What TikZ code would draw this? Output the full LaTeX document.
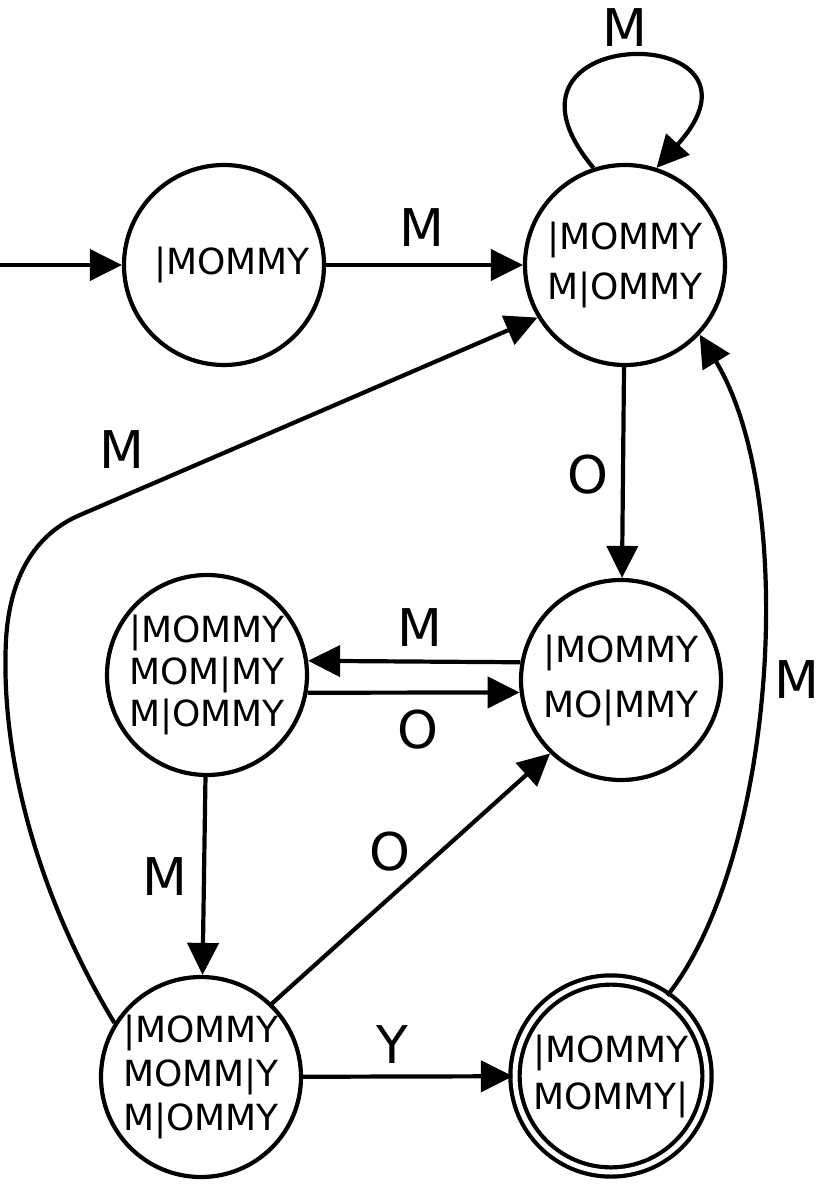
\documentclass[tikz,border=0pt]{standalone}
\usepackage{fontspec}
\setmainfont{DejaVu Sans}
\usetikzlibrary{arrows.meta}
\tikzset{
edge/.style={line width=4.2pt, -{Triangle[length=32pt,width=31pt]}}}

\begin{document}
\begin{tikzpicture}[x=1pt,y=1pt]
		\tikzset{state/.style = {shape=circle, draw, line width=4.2pt, minimum size=200pt, inner sep=0pt, align=center, font=\fontsize{36}{#1}\selectfont}, state/.default=44}
		\tikzset{final/.style = {state=#1, double, double distance=5pt, minimum size=192pt}}
		\tikzset{lbl/.style = {inner sep=0pt, font=\fontsize{52}{52}\selectfont}}

		\useasboundingbox (0,0) rectangle (820,-1185);

		\node[state] (Q_0) at (224,-265) {\hspace{16pt}|MOMMY};
		\node[state=50] (Q_1) at (625,-265) {|MOMMY\\M|OMMY};
		\node[state=55] (Q_2) at (621,-680) {|MOMMY\\MO|MMY};
		\node[state=42] (Q_3) at (207,-675) {|MOMMY\\MOM|MY\\M|OMMY};
		\node[state=44] (Q_4) at (201,-1077) {|MOMMY\\MOMM|Y\\M|OMMY};
		\node[final=47] (Q_5) at (611,-1076) {|MOMMY\\MOMMY|};

		\coordinate (start) at (0,-265);

		\draw[edge] (start) to (Q_0);
		\draw[edge] (Q_0) to (Q_1);
		\draw[edge] (Q_1.108) .. controls (470,-20) and (790,-20) .. (Q_1.72);
		\draw[edge] (Q_1) to (Q_2);

		\draw[edge] (Q_2.170) to (Q_3.8);
		\draw[edge] (Q_3.-10) to (Q_2.187);
		\draw[edge] (Q_3) to (Q_4);

		\draw[edge] (Q_4.46) to (Q_2.226);
		\draw[edge] (Q_4) to (Q_5);

		\draw[edge] (Q_5.55) .. controls (775,-860) and (800,-500) .. (Q_1.-43);
		\draw[edge] (Q_4.148) .. controls (40,-900) and (0,-760) .. (6,-640)
			.. controls (10,-570) and (40,-532) .. (80,-515) -- (Q_1.211);

		\node[lbl] (L_1) at (422,-228) {M};
		\node[lbl] (L_2) at (625,-28) {M};
		\node[lbl] (L_3) at (588,-475) {O};
		\node[lbl] (L_4) at (420,-628) {M};
		\node[lbl] (L_5) at (418,-730) {O};
		\node[lbl] (L_6) at (122,-450) {M};
		\node[lbl] (L_7) at (165,-877) {M};
		\node[lbl] (L_8) at (390,-852) {O};
		\node[lbl] (L_9) at (392,-1045) {Y};
		\node[lbl] (L_10) at (797,-680) {M};
	\end{tikzpicture}
\end{document}
